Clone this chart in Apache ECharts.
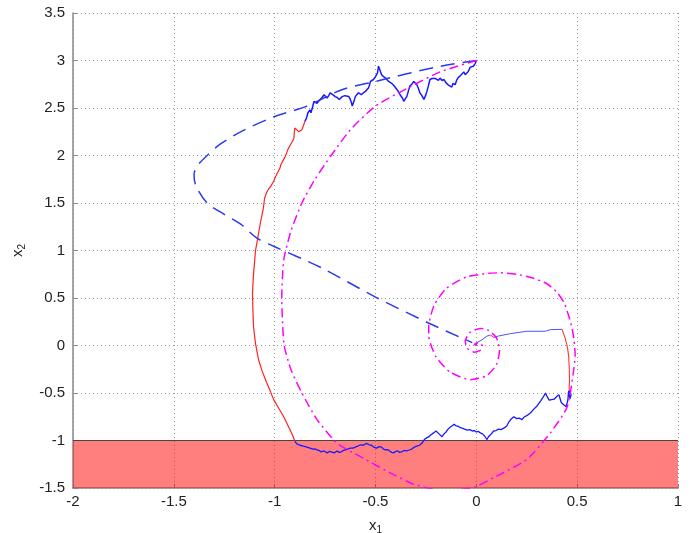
<!DOCTYPE html>
<html><head><meta charset="utf-8">
<script src="https://cdn.jsdelivr.net/npm/echarts@6/dist/echarts.min.js"></script>
<style>html,body{margin:0;padding:0;background:#fff}#c{width:692px;height:533px}</style>
</head><body><div id="c"></div>
<script>
const xTicks = [-2, -1.5, -1, -0.5, 0, 0.5, 1];
const yTicks = [-1.5, -1, -0.5, 0, 0.5, 1, 1.5, 2, 2.5, 3, 3.5];
const bandY = [-1.5, -1];

const dashedBlue = [[0,3],[-0.2,2.93],[-0.5,2.78],[-0.67,2.69],[-0.84,2.52],[-1.0,2.41],[-1.15,2.27],[-1.27,2.12],[-1.335,2.0],[-1.38,1.9],[-1.40,1.8],[-1.39,1.68],[-1.335,1.5],[-1.25,1.38],[-1.17,1.28],[-1.088,1.13],[-1.0,1.04],[-0.77,0.82],[-0.5,0.51],[-0.24,0.24],[-0.02,0.03]];

const spiral = [[0,3],[-0.18,2.88],[-0.34,2.71],[-0.5,2.52],[-0.625,2.27],[-0.72,2.0],[-0.8,1.75],[-0.865,1.5],[-0.92,1.2],[-0.955,0.9],[-0.965,0.5],[-0.96,0.2],[-0.953,0],[-0.92,-0.25],[-0.865,-0.5],[-0.79,-0.78],[-0.69,-1.03],[-0.575,-1.17],[-0.41,-1.36],[-0.31,-1.46],[-0.16,-1.53],[-0.01,-1.49],[0.087,-1.39],[0.25,-1.2],[0.367,-0.92],[0.45,-0.65],[0.48,-0.3],[0.49,-0.1],[0.485,0.05],[0.475,0.18],[0.46,0.3],[0.435,0.45],[0.4,0.56],[0.35,0.65],[0.28,0.71],[0.2,0.75],[0.12,0.765],[0.06,0.76],[-0.05,0.72],[-0.15,0.6],[-0.21,0.42],[-0.236,0.2],[-0.236,0.1],[-0.2,-0.12],[-0.13,-0.28],[-0.03,-0.36],[0.05,-0.32],[0.1,-0.2],[0.115,-0.05],[0.1,0.08],[0.06,0.16],[0.02,0.18],[-0.03,0.14],[-0.055,0.05],[-0.045,-0.03],[-0.01,-0.07],[0.02,-0.05],[0.03,0.0],[0.01,0.03],[-0.01,0.01],[0,0]];

const blueTop = [[0,3.0],[-0.005,2.97],[-0.01,2.99],[-0.015,2.94],[-0.02,2.92],[-0.03,2.93],[-0.04,2.885],[-0.048,2.9],[-0.055,2.85],[-0.062,2.88],[-0.07,2.87],[-0.08,2.84],[-0.09,2.82],[-0.098,2.79],[-0.105,2.745],[-0.115,2.76],[-0.122,2.72],[-0.13,2.71],[-0.138,2.74],[-0.145,2.73],[-0.152,2.77],[-0.16,2.80],[-0.17,2.79],[-0.18,2.815],[-0.188,2.79],[-0.195,2.78],[-0.202,2.81],[-0.21,2.83],[-0.22,2.81],[-0.23,2.80],[-0.238,2.73],[-0.245,2.675],[-0.252,2.63],[-0.26,2.59],[-0.27,2.63],[-0.28,2.66],[-0.288,2.71],[-0.295,2.745],[-0.302,2.76],[-0.31,2.78],[-0.32,2.75],[-0.33,2.73],[-0.338,2.67],[-0.345,2.62],[-0.352,2.6],[-0.36,2.57],[-0.365,2.6],[-0.37,2.62],[-0.378,2.64],[-0.385,2.66],[-0.392,2.69],[-0.40,2.71],[-0.41,2.74],[-0.42,2.76],[-0.428,2.77],[-0.435,2.78],[-0.442,2.8],[-0.45,2.815],[-0.46,2.83],[-0.47,2.85],[-0.478,2.9],[-0.485,2.94],[-0.488,2.9],[-0.49,2.87],[-0.5,2.83],[-0.51,2.80],[-0.518,2.79],[-0.525,2.78],[-0.53,2.74],[-0.535,2.71],[-0.542,2.69],[-0.55,2.675],[-0.56,2.66],[-0.57,2.64],[-0.578,2.65],[-0.585,2.66],[-0.592,2.64],[-0.60,2.62],[-0.607,2.57],[-0.615,2.52],[-0.62,2.56],[-0.625,2.59],[-0.632,2.62],[-0.64,2.64],[-0.652,2.63],[-0.665,2.62],[-0.672,2.6],[-0.68,2.59],[-0.69,2.61],[-0.70,2.62],[-0.712,2.64],[-0.725,2.66],[-0.732,2.63],[-0.74,2.605],[-0.748,2.62],[-0.755,2.64],[-0.765,2.61],[-0.775,2.59],[-0.782,2.57],[-0.79,2.55],[-0.798,2.56],[-0.805,2.57],[-0.812,2.51],[-0.82,2.45],[-0.825,2.48],[-0.83,2.50],[-0.835,2.45],[-0.84,2.41],[-0.845,2.38],[-0.85,2.36]];

const redLeft = [[-0.85,2.36],[-0.858,2.31],[-0.865,2.27],[-0.872,2.26],[-0.88,2.25],[-0.89,2.27],[-0.90,2.29],[-0.903,2.23],[-0.905,2.18],[-0.912,2.15],[-0.92,2.13],[-0.928,2.09],[-0.935,2.06],[-0.94,2.03],[-0.945,2.02],[-0.95,1.98],[-0.955,1.96],[-0.963,1.93],[-0.97,1.9],[-0.975,1.86],[-0.98,1.85],[-0.988,1.81],[-0.995,1.78],[-1.003,1.74],[-1.01,1.71],[-1.018,1.68],[-1.025,1.66],[-1.032,1.64],[-1.04,1.61],[-1.045,1.58],[-1.05,1.55],[-1.053,1.5],[-1.055,1.46],[-1.062,1.38],[-1.07,1.3],[-1.08,1.18],[-1.088,1.08],[-1.095,1.0],[-1.10,0.87],[-1.106,0.72],[-1.11,0.55],[-1.108,0.38],[-1.105,0.2],[-1.095,0.02],[-1.08,-0.15],[-1.062,-0.27],[-1.04,-0.39],[-1.022,-0.48],[-1.005,-0.57],[-0.98,-0.66],[-0.955,-0.75],[-0.93,-0.86],[-0.91,-0.95],[-0.9,-1.01]];

const blueBottom = [[-0.9,-1.01],[-0.895,-1.03],[-0.89,-1.035],[-0.882,-1.04],[-0.875,-1.05],[-0.866,-1.052],[-0.857,-1.06],[-0.848,-1.058],[-0.84,-1.07],[-0.832,-1.068],[-0.825,-1.08],[-0.817,-1.078],[-0.81,-1.09],[-0.8,-1.088],[-0.79,-1.10],[-0.78,-1.105],[-0.77,-1.12],[-0.762,-1.11],[-0.755,-1.11],[-0.748,-1.125],[-0.74,-1.13],[-0.73,-1.115],[-0.72,-1.12],[-0.712,-1.135],[-0.705,-1.13],[-0.698,-1.115],[-0.69,-1.11],[-0.68,-1.125],[-0.67,-1.12],[-0.66,-1.105],[-0.65,-1.10],[-0.638,-1.09],[-0.625,-1.08],[-0.612,-1.08],[-0.6,-1.07],[-0.588,-1.06],[-0.575,-1.045],[-0.568,-1.06],[-0.56,-1.05],[-0.552,-1.035],[-0.545,-1.03],[-0.532,-1.045],[-0.52,-1.05],[-0.508,-1.07],[-0.495,-1.08],[-0.482,-1.065],[-0.47,-1.07],[-0.46,-1.09],[-0.45,-1.10],[-0.44,-1.095],[-0.43,-1.11],[-0.42,-1.125],[-0.41,-1.13],[-0.4,-1.115],[-0.39,-1.11],[-0.38,-1.125],[-0.37,-1.12],[-0.358,-1.105],[-0.345,-1.11],[-0.332,-1.1],[-0.32,-1.09],[-0.308,-1.07],[-0.295,-1.06],[-0.282,-1.05],[-0.27,-1.03],[-0.258,-0.99],[-0.245,-0.97],[-0.235,-0.96],[-0.225,-0.94],[-0.212,-0.92],[-0.2,-0.9],[-0.192,-0.91],[-0.185,-0.93],[-0.178,-0.95],[-0.17,-0.96],[-0.16,-0.93],[-0.15,-0.91],[-0.14,-0.88],[-0.13,-0.86],[-0.12,-0.845],[-0.11,-0.83],[-0.1,-0.845],[-0.09,-0.85],[-0.08,-0.865],[-0.07,-0.87],[-0.058,-0.88],[-0.045,-0.89],[-0.032,-0.885],[-0.02,-0.9],[-0.01,-0.895],[0.0,-0.91],[0.01,-0.905],[0.02,-0.92],[0.03,-0.93],[0.04,-0.95],[0.047,-0.97],[0.053,-0.99],[0.06,-0.96],[0.07,-0.94],[0.078,-0.92],[0.086,-0.9],[0.098,-0.895],[0.11,-0.88],[0.122,-0.885],[0.136,-0.87],[0.143,-0.86],[0.15,-0.85],[0.16,-0.81],[0.17,-0.78],[0.178,-0.77],[0.186,-0.75],[0.193,-0.765],[0.2,-0.77],[0.213,-0.765],[0.227,-0.78],[0.236,-0.755],[0.245,-0.74],[0.256,-0.73],[0.268,-0.71],[0.276,-0.69],[0.285,-0.67],[0.292,-0.66],[0.3,-0.64],[0.31,-0.61],[0.32,-0.58],[0.328,-0.555],[0.335,-0.53],[0.339,-0.51],[0.343,-0.5],[0.349,-0.53],[0.355,-0.55],[0.361,-0.575],[0.367,-0.59],[0.373,-0.57],[0.38,-0.56],[0.386,-0.565],[0.392,-0.55],[0.4,-0.535],[0.41,-0.52],[0.414,-0.55],[0.418,-0.57],[0.421,-0.6],[0.425,-0.61],[0.432,-0.62],[0.44,-0.63],[0.445,-0.645],[0.45,-0.64],[0.452,-0.59],[0.455,-0.55],[0.456,-0.51],[0.458,-0.48],[0.46,-0.5],[0.462,-0.53],[0.464,-0.56],[0.466,-0.57],[0.468,-0.55],[0.47,-0.52],[0.465,-0.49],[0.46,-0.47]];

const redRight = [[0.46,-0.47],[0.462,-0.35],[0.461,-0.25],[0.458,-0.12],[0.452,-0.02],[0.44,0.08],[0.425,0.17]];

const blueMid1 = [[0.425,0.17],[0.367,0.167],[0.343,0.15],[0.25,0.15],[0.17,0.125],[0.11,0.1],[0.087,0.085]];
const redMid = [[0.087,0.085],[0.07,0.11]];
const blueMid2 = [[0.07,0.11],[0.053,0.1],[0.028,0.06],[0.003,0.03],[0,0]];

const BLUE = '#1a1aff';
const lineS = (data, color, width, type, z, smooth) => ({
  type: 'line', data, symbol: 'none', smooth: smooth || false, clip: true, z: z || 3,
  lineStyle: {color, width, type: type || 'solid'}, silent: true, animation: false
});

const FONT = 'Liberation Sans';
const chart = echarts.init(document.getElementById('c'));
chart.setOption({
  animation: false,
  grid: {left: 73, right: 14, top: 13, bottom: 45, containLabel: false, outerBoundsMode: 'none'},
  xAxis: {
    type: 'value', min: xTicks[0], max: xTicks[xTicks.length-1], interval: 0.5,
    name: 'x{s|1}', nameLocation: 'middle', nameGap: 28,
    nameTextStyle: {fontFamily: FONT, fontSize: 15, color: '#222',
      rich: {s: {fontFamily: FONT, fontSize: 10, verticalAlign: 'bottom', padding: [9,0,0,0], color:'#222'}}},
    axisLine: {onZero: false, lineStyle: {color: '#888', width: 1.5}},
    axisTick: {inside: true, length: 4, lineStyle: {color: '#888'}},
    axisLabel: {fontFamily: FONT, fontSize: 15, color: '#222', margin: 6},
    splitLine: {show: true, lineStyle: {color: '#999', width: 1, type: [1, 3]}}
  },
  yAxis: {
    type: 'value', min: yTicks[0], max: yTicks[yTicks.length-1], interval: 0.5,
    name: 'x{s|2}', nameLocation: 'middle', nameGap: 46, nameRotate: 90,
    nameTextStyle: {fontFamily: FONT, fontSize: 15, color: '#222',
      rich: {s: {fontFamily: FONT, fontSize: 10, verticalAlign: 'bottom', padding: [9,0,0,0], color:'#222'}}},
    axisLine: {onZero: false, lineStyle: {color: '#888', width: 1.5}},
    axisTick: {inside: true, length: 4, lineStyle: {color: '#888'}},
    axisLabel: {fontFamily: FONT, fontSize: 15, color: '#222', margin: 8},
    splitLine: {show: true, lineStyle: {color: '#999', width: 1, type: [1, 3]}}
  },
  series: [
    {type: 'line', data: [], symbol: 'none', z: 1,
     markArea: {silent: true, itemStyle: {color: 'rgba(255,0,0,0.5)'},
       data: [[{coord: [xTicks[0], bandY[0]]}, {coord: [xTicks[xTicks.length-1], bandY[1]]}]]}},
    lineS([[xTicks[0], bandY[1]], [xTicks[xTicks.length-1], bandY[1]]], '#444', 1, 'solid', 2),
    lineS(blueTop, BLUE, 1.5),
    lineS(redLeft, '#ff2020', 1.2),
    lineS(blueBottom, BLUE, 1.3),
    lineS(redRight, '#ff3030', 1.1),
    lineS(blueMid1, '#4455ff', 1),
    lineS(redMid, '#ff3030', 1),
    lineS(blueMid2, '#4455ff', 1),
    lineS(dashedBlue, '#2a3af0', 1.5, [14, 8], 4, 0.3),
    lineS(spiral, '#ff00ff', 1.5, [9, 4, 2, 4], 5, 0.2)
  ]
});
</script></body></html>
